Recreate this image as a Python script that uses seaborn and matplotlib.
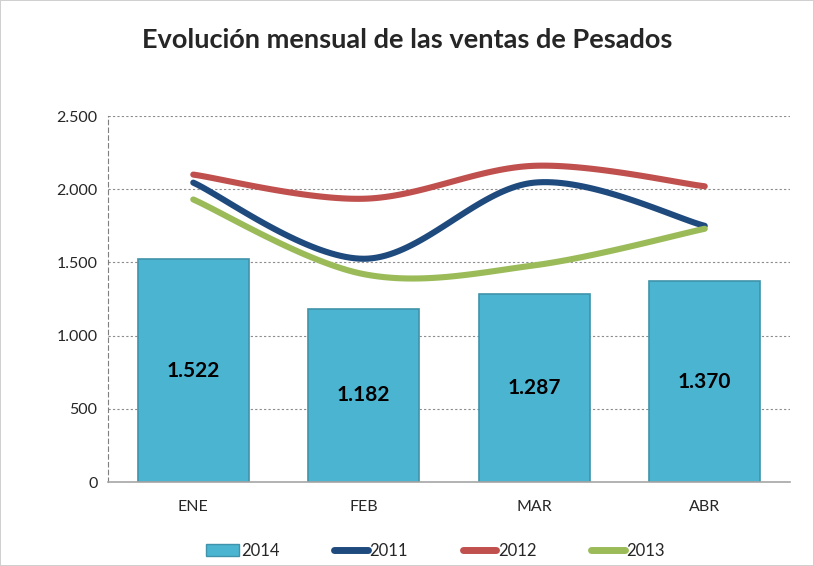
import matplotlib
matplotlib.use("Agg")
import matplotlib.pyplot as plt
import seaborn as sns
import pandas as pd
import numpy as np
from matplotlib.ticker import FuncFormatter
from matplotlib.patches import Patch
from matplotlib.lines import Line2D

# Data
months = ["ENE", "FEB", "MAR", "ABR"]
sales_2014 = [1522, 1182, 1287, 1370]
sales_2011 = [2045, 1525, 2045, 1750]
sales_2012 = [2100, 1935, 2160, 2020]
sales_2013 = [1930, 1420, 1480, 1730]

series_names = ["2011", "2012", "2013"]
series_values = [sales_2011, sales_2012, sales_2013]
line_colors = ["#1F4A7E", "#C0504D", "#9BBB59"]
bar_color = "#4BB4D0"


def smooth(xs, ys, n=40):
    """Catmull-Rom spline through the points (similar to Excel's smoothed line)."""
    p = np.column_stack([xs, ys]).astype(float)
    p = np.vstack([p[0], p, p[-1]])
    out = []
    for i in range(1, len(p) - 2):
        p0, p1, p2, p3 = p[i - 1], p[i], p[i + 1], p[i + 2]
        t = np.linspace(0, 1, n)[:, None]
        seg = 0.5 * ((2 * p1) + (-p0 + p2) * t + (2 * p0 - 5 * p1 + 4 * p2 - p3) * t ** 2
                     + (-p0 + 3 * p1 - 3 * p2 + p3) * t ** 3)
        out.append(seg if i == len(p) - 3 else seg[:-1])
    out = np.vstack(out)
    return out[:, 0], out[:, 1]


sns.set_style("white")
plt.rcParams["font.family"] = ["Lato", "DejaVu Sans"]

fig = plt.figure(figsize=(8.14, 5.66), dpi=100)
fig.patch.set_edgecolor("#D0D0D0")
fig.patch.set_linewidth(1.2)
ax = fig.add_axes([0.1327, 0.1484, 0.8378, 0.6466])

df_bar = pd.DataFrame({"mes": months, "ventas": sales_2014})
sns.barplot(data=df_bar, x="mes", y="ventas", color=bar_color, width=0.65,
            edgecolor="#3F93AA", linewidth=1.2, saturation=1, ax=ax, zorder=2)

for xi, v in enumerate(sales_2014):
    ax.text(xi, v / 2, f"{v:,}".replace(",", "."), ha="center", va="center",
            fontsize=15, fontweight="bold", color="black", zorder=4)

xs = np.arange(len(months))
for name, vals, col in zip(series_names, series_values, line_colors):
    sx, sy = smooth(xs, vals)
    sns.lineplot(x=sx, y=sy, sort=False, color=col, linewidth=4.4,
                 solid_capstyle="round", ax=ax, zorder=3)

ax.set_xlim(-0.5, 3.5)
ax.set_ylim(0, 2500)
ax.set_yticks(np.arange(0, 2501, 500))
ax.yaxis.set_major_formatter(FuncFormatter(lambda v, p: f"{int(v):,}".replace(",", ".")))
ax.yaxis.grid(True, linestyle=(0, (2, 2)), color="#8C8C8C", linewidth=0.8)
ax.set_axisbelow(True)
ax.set_xlabel("")
ax.set_ylabel("")

ax.set_xticks(xs)
ax.set_xticks([0.5, 1.5, 2.5, 3.5], minor=True)
ax.tick_params(axis="x", which="major", length=0, labelsize=11.5, pad=13)
ax.tick_params(axis="x", which="minor", length=5, color="#A6A6A6", direction="out")
ax.tick_params(axis="y", length=4, color="#7F7F7F", labelsize=11.5, direction="out")

for s in ["top", "right"]:
    ax.spines[s].set_visible(False)
ax.spines["left"].set_linestyle((0, (4, 3)))
ax.spines["left"].set_color("#7F7F7F")
ax.spines["left"].set_linewidth(0.8)
ax.spines["bottom"].set_color("#A6A6A6")
ax.spines["bottom"].set_linewidth(1.2)

fig.suptitle("Evolución mensual de las ventas de Pesados", y=0.95,
             fontsize=19.5, fontweight="bold")

handles = [Patch(facecolor=bar_color, edgecolor="#3F93AA")]
handles += [Line2D([0], [0], color=c, linewidth=5, solid_capstyle="round") for c in line_colors]
fig.legend(handles, ["2014"] + series_names, loc="center", bbox_to_anchor=(0.535, 0.027),
           ncol=4, frameon=False, fontsize=12, handlelength=2.0, handletextpad=0.1,
           columnspacing=3.3)

fig.savefig("out.png", dpi=100)
